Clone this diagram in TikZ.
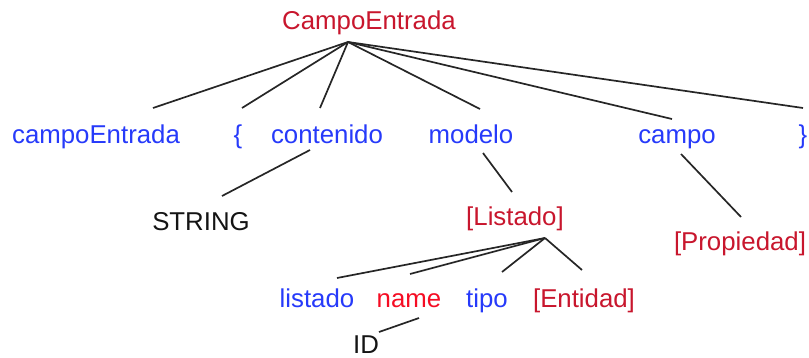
\documentclass[tikz,border=0pt]{standalone}
\usepackage{fontspec}
\setmainfont{Liberation Sans}
\definecolor{ntred}{RGB}{200,22,45}
\definecolor{tkred}{RGB}{245,12,35}
\definecolor{tkblue}{RGB}{38,58,250}
\definecolor{tkblack}{RGB}{20,20,20}
\tikzset{
  lbl/.style={anchor=base,inner sep=0pt,font=\fontsize{25.8}{31}\selectfont},
  nonterm/.style={lbl,text=ntred},
  term/.style={lbl,text=tkblue},
  idlbl/.style={lbl,text=tkred},
  plain/.style={lbl,text=tkblack},
  edge/.style={draw=black!85,line width=1.7pt}}
\begin{document}
\begin{tikzpicture}[x=1pt,y=-1pt]
\useasboundingbox (0,0) rectangle (809,358);

% labels
\node[nonterm] (root) at (369,30) {CampoEntrada};
\node[term] (ce) at (96,144) {campoEntrada};
\node[term] (lb) at (238,144) {\{};
\node[term] (cont) at (327,144) {contenido};
\node[term] (mod) at (471,144) {modelo};
\node[term] (camp) at (677,144) {campo};
\node[term] (rb) at (803,144) {\}};
\node[plain] (str) at (201,231) {STRING};
\node[nonterm] (lst) at (515,226) {[Listado]};
\node[nonterm] (prop) at (740,251) {[Propiedad]};
\node[term] (lsto) at (317,307) {listado};
\node[idlbl] (nm) at (409,307) {name};
\node[term] (tp) at (487,307) {tipo};
\node[nonterm] (ent) at (584,307) {[Entidad]};
\node[plain] (id) at (366,353) {ID};

% branch points and leaf ends
\coordinate (rootA) at (348,42);
\coordinate (ceT) at (153,108);
\coordinate (lbT) at (242,108);
\coordinate (contT) at (320,108);
\coordinate (modT) at (480,109);
\coordinate (campT) at (672,119);
\coordinate (rbT) at (803,108);
\coordinate (contB) at (310,150);
\coordinate (strT) at (222,196);
\coordinate (modB) at (483,153);
\coordinate (lstT) at (512,192);
\coordinate (campB) at (681,154);
\coordinate (propT) at (741,217);
\coordinate (lstA) at (545,238);
\coordinate (lstoT) at (337,278);
\coordinate (nmT) at (410,274);
\coordinate (tpT) at (502,272);
\coordinate (entT) at (582,270);
\coordinate (nmB) at (419,318);
\coordinate (idT) at (379,332);

% tree edges
\foreach \c in {ceT,lbT,contT,modT,campT,rbT}
  \draw[edge] (rootA) -- (\c);
\draw[edge] (contB) -- (strT);
\draw[edge] (modB) -- (lstT);
\draw[edge] (campB) -- (propT);
\foreach \c in {lstoT,nmT,tpT,entT}
  \draw[edge] (lstA) -- (\c);
\draw[edge] (nmB) -- (idT);
\end{tikzpicture}
\end{document}
